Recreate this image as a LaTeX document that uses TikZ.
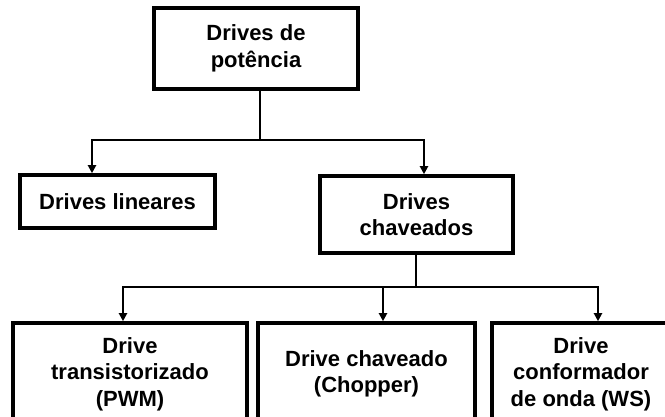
\documentclass[tikz,border=0pt]{standalone}
\usepackage{fontspec}
\setmainfont{Liberation Sans}
\usetikzlibrary{arrows.meta}

\tikzset{
    drvbox/.style={draw, line width=3.6pt, align=center, inner sep=0pt,
        font=\fontsize{22}{26.5}\selectfont\bfseries},
    link/.style={line width=2.8pt},
    arr/.style={link, -{Triangle[length=8pt, width=8pt]}}
}

\begin{document}
\begin{tikzpicture}[x=1pt, y=-1pt]

        \useasboundingbox (0,0) rectangle (665,417);

        % Top level
        \node[drvbox, minimum width=204, minimum height=81] (pot) at (256,48.5) {Drives de\\potência};

        % Second level
        \node[drvbox, minimum width=195, minimum height=53] (lin) at (117.5,201.5) {Drives lineares};
        \node[drvbox, minimum width=193, minimum height=77] (chav) at (416.5,214.5) {Drives\\chaveados};

        % Third level
        \node[drvbox, minimum width=234, minimum height=102] (pwm) at (130,374) {Drive\\transistorizado\\(PWM)};
        \node[drvbox, minimum width=217, minimum height=102] (chop) at (366.5,374) {Drive chaveado\\(Chopper)};
        \node[drvbox, minimum width=178, minimum height=102] (ws) at (581,374) {Drive\\conformador\\de onda (WS)};

        % Connectors from the top box
        \coordinate (split1) at (260,140);
        \draw[link] (pot.south -| split1) -- (split1);
        \draw[arr] (split1) -| ([xshift=-25.5]lin.north);
        \draw[arr] (split1) -| ([xshift=7.5]chav.north);

        % Connectors from the switched drives
        \coordinate (split2) at (416,287);
        \draw[link] (chav.south -| split2) -- (split2);
        \draw[arr] (split2) -| ([xshift=-7]pwm.north);
        \draw[arr] (split2) -| ([xshift=16.5]chop.north);
        \draw[arr] (split2) -| ([xshift=17]ws.north);

    \end{tikzpicture}
\end{document}
